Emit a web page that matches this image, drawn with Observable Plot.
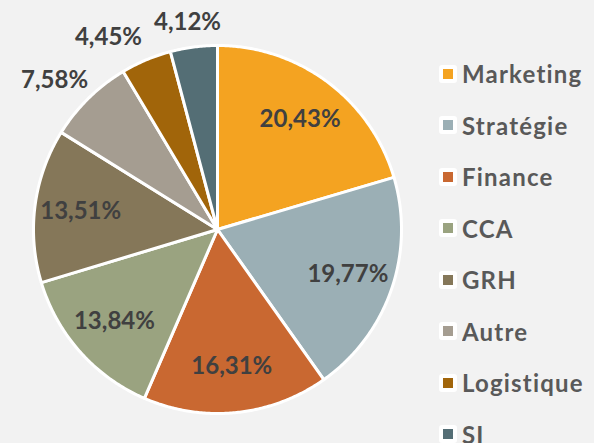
<!DOCTYPE html>
<html>
<head>
<meta charset="utf-8">
<script src="https://cdn.jsdelivr.net/npm/d3@7"></script>
<script src="https://cdn.jsdelivr.net/npm/@observablehq/plot@0.6"></script>
<style>
  html, body { margin: 0; padding: 0; background: #f2f2f2; }
  #wrap { position: relative; width: 594px; height: 443px; overflow: hidden; background: #f2f2f2; }
  #wrap > svg { position: absolute; left: 0; top: 0; background: transparent; }
  #legend { position: absolute; left: 439px; top: 48px; }
  #legend .lg-swatch { height: 51.5px !important; display: flex !important; align-items: center !important; padding: 0 !important; margin: 0 !important;
     font: bold 24px Lato, "Open Sans", sans-serif !important; color: #595959 !important; letter-spacing: 1.2px; white-space: nowrap; }
  #legend .lg-swatch::before { content: none !important; }
  #legend .lg-swatch svg { border: 4px solid #ffffff; border-radius: 3px; margin-right: 5px !important; flex-shrink: 0; }
  #legend .lg-swatches { margin: 0 !important; min-height: 0 !important; }
  #legend .lg-swatches-columns { columns: auto !important; }
</style>
</head>
<body>
<div id="wrap"><div id="legend"></div></div>
<script>
const categories = ["Marketing", "Stratégie", "Finance", "CCA", "GRH", "Autre", "Logistique", "SI"];
const values = [20.43, 19.77, 16.31, 13.84, 13.51, 7.58, 4.45, 4.12];
const labels = ["20,43%", "19,77%", "16,31%", "13,84%", "13,51%", "7,58%", "4,45%", "4,12%"];
const colors = ["#F4A321", "#9BAFB5", "#C96831", "#9AA380", "#857759", "#A59D91", "#A1650A", "#546E75"];

const W = 594, H = 443;
const cx = 217, cy = 229, R = 184;
const total = d3.sum(values);

// slice geometry (unit circle, clockwise from 12 o'clock)
const slices = [];
let acc = 0;
values.forEach((v, i) => {
  const a0 = acc / total * 2 * Math.PI;
  acc += v;
  const a1 = acc / total * 2 * Math.PI;
  slices.push({cat: categories[i], a0, a1, mid: (a0 + a1) / 2, v, label: labels[i]});
});

const polyPts = [];
slices.forEach(s => {
  polyPts.push({cat: s.cat, x: 0, y: 0});
  const n = Math.max(2, Math.ceil((s.a1 - s.a0) / (Math.PI / 360)));
  for (let k = 0; k <= n; k++) {
    const a = s.a0 + (s.a1 - s.a0) * k / n;
    polyPts.push({cat: s.cat, x: Math.sin(a), y: Math.cos(a)});
  }
  polyPts.push({cat: s.cat, x: 0, y: 0});
});

// label layout
const ctx = document.createElement("canvas").getContext("2d");
ctx.font = "bold 24px Lato";
const lh = 20, pad = 15, gap = 12;
const labelPts = [];
slices.forEach(s => {
  const ux = Math.sin(s.mid), uy = Math.cos(s.mid);
  if (s.v >= 10) {
    labelPts.push({text: s.label, x: 0.75 * ux, y: 0.75 * uy});
  } else {
    const w = ctx.measureText(s.label).width;
    const px = (R + pad) * ux + (w / 2) * ux;   // pixel offsets from centre (y up)
    const py = (R + pad) * uy + (lh / 2) * uy;
    labelPts.push({text: s.label, px, py, w, outside: true});
  }
});
// resolve overlaps among outside labels (counter-clockwise from the last slice)
const outs = labelPts.filter(d => d.outside).reverse();
for (let i = 1; i < outs.length; i++) {
  const p = outs[i - 1], c = outs[i];
  const overlapY = Math.abs(p.py - c.py) < lh;
  const cRight = c.px + c.w / 2, pLeft = p.px - p.w / 2;
  if (overlapY && cRight > pLeft - gap) c.px = pLeft - gap - c.w / 2;
}
labelPts.forEach(d => { if (d.outside) { d.x = d.px / R; d.y = d.py / R; } });

const chart = Plot.plot({
  width: W, height: H,
  marginTop: 0, marginRight: 0, marginBottom: 0, marginLeft: 0,
  style: {background: "transparent"},
  x: {domain: [-1, 1], range: [cx - R, cx + R], axis: null},
  y: {domain: [-1, 1], range: [cy + R, cy - R], axis: null},
  color: {domain: categories, range: colors},
  marks: [
    Plot.line(polyPts, {x: "x", y: "y", z: "cat", fill: "cat", stroke: "#ffffff", strokeWidth: 3, strokeLinejoin: "round", curve: "linear"}),
    Plot.text(labelPts, {x: "x", y: "y", text: "text", fontSize: 24, fontWeight: 700, fill: "#404040", fontFamily: "Lato, 'Open Sans', sans-serif"})
  ]
});
document.getElementById("wrap").prepend(chart);

const leg = Plot.legend({
  color: {domain: categories, range: colors},
  legend: "swatches",
  columns: 1,
  swatchSize: 10,
  className: "lg"
});
document.getElementById("legend").appendChild(leg);
</script>
</body>
</html>
